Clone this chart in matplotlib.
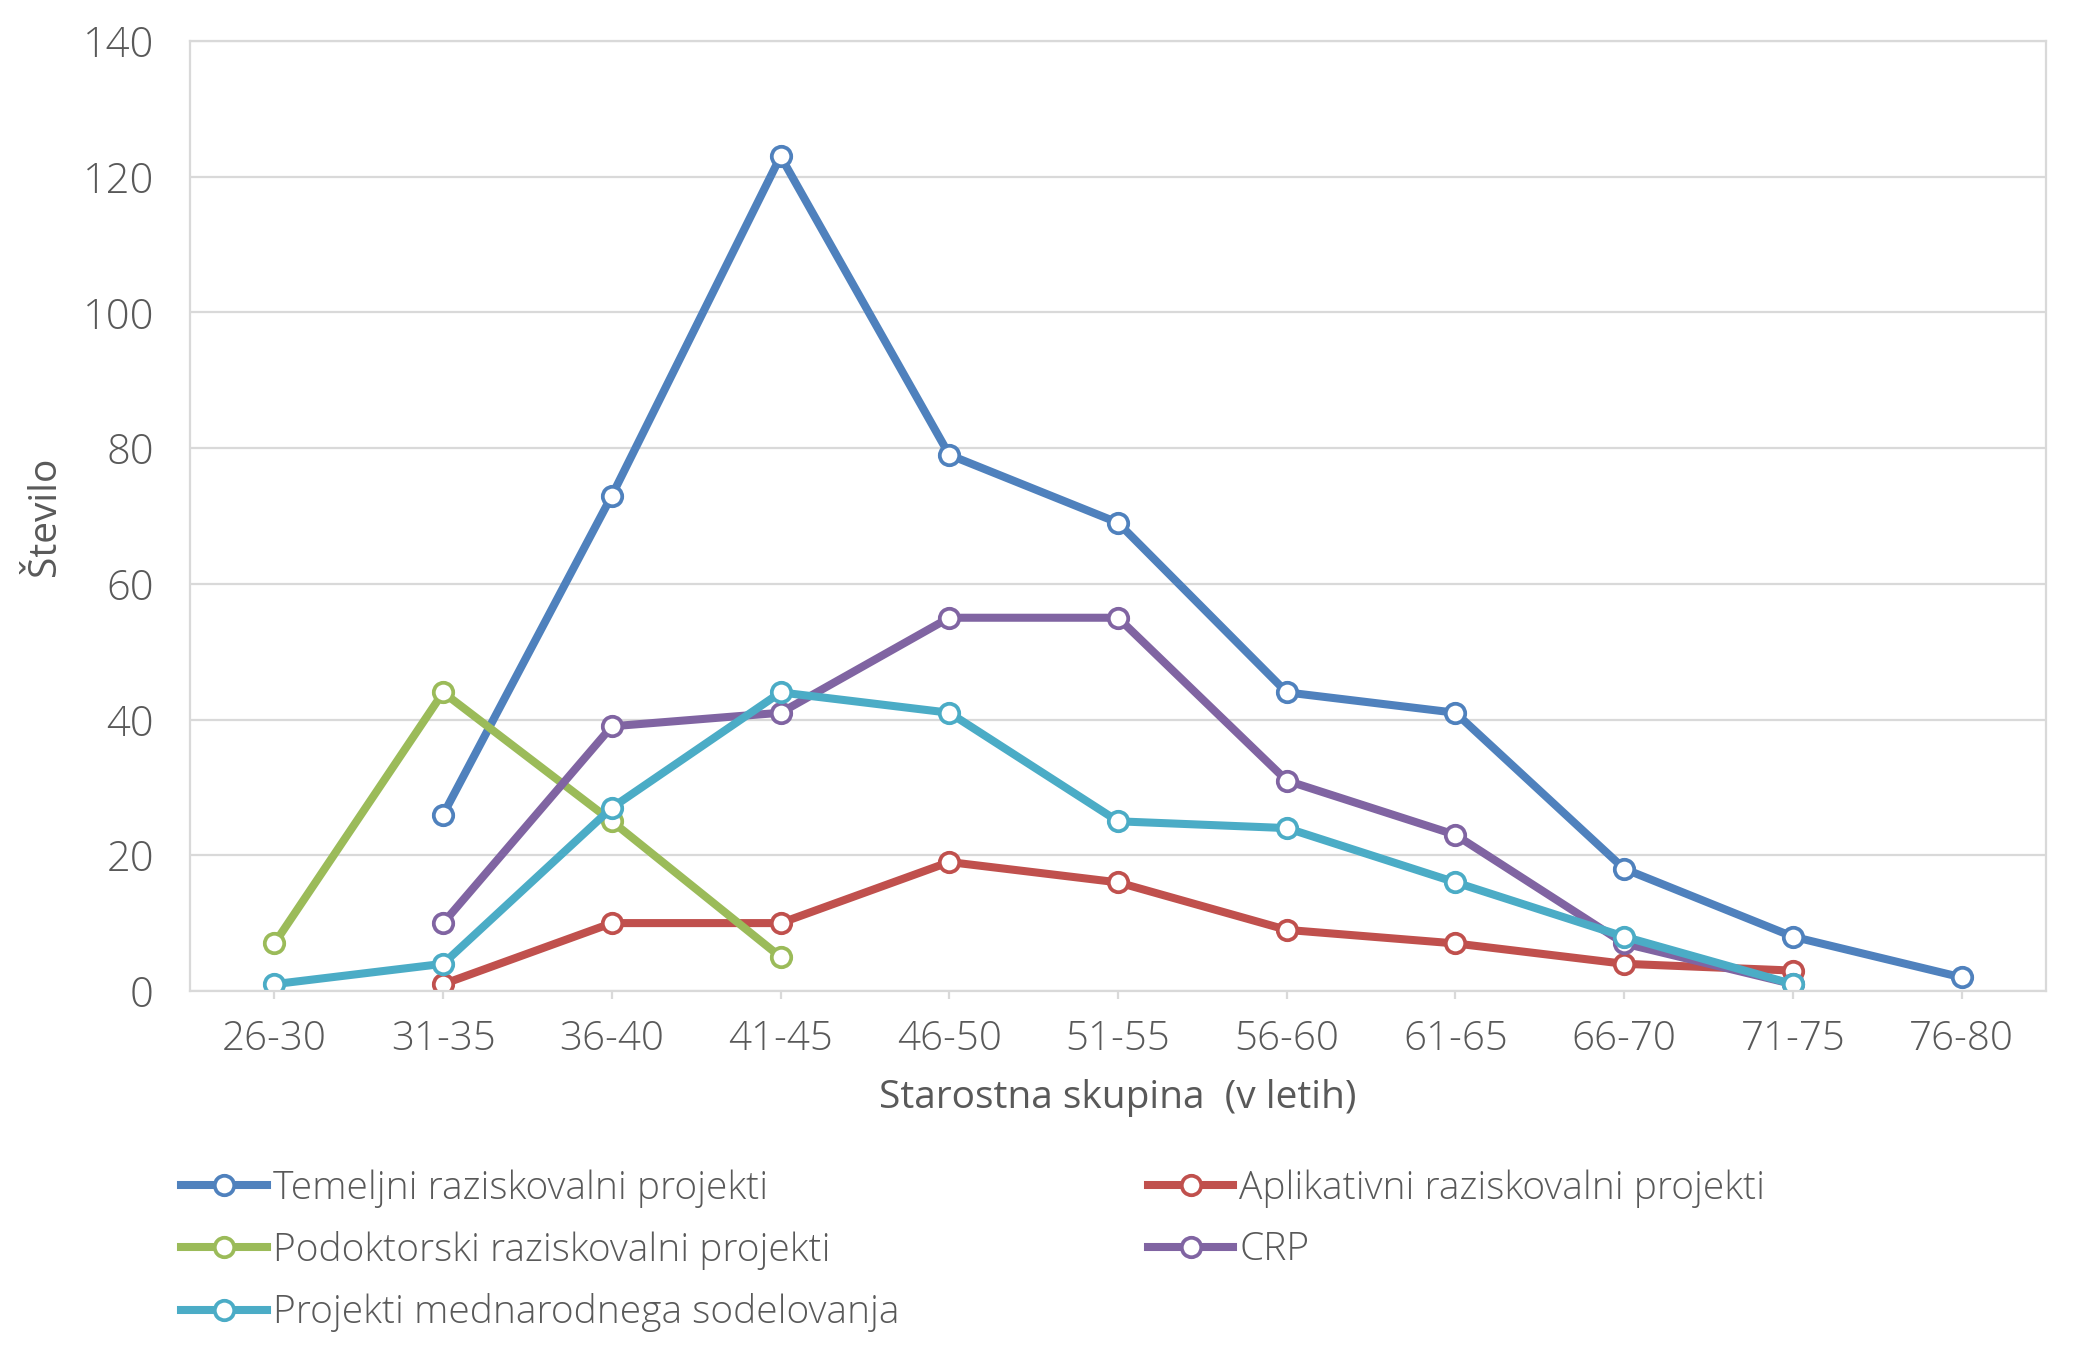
import numpy as np
import matplotlib
matplotlib.use('Agg')
import matplotlib.pyplot as plt

# starostne skupine
categories = ['26-30', '31-35', '36-40', '41-45', '46-50', '51-55',
              '56-60', '61-65', '66-70', '71-75', '76-80']
nan = np.nan
temeljni = [nan, 26, 73, 123, 79, 69, 44, 41, 18, 8, 2]
aplikativni = [nan, 1, 10, 10, 19, 16, 9, 7, 4, 3, nan]
podoktorski = [7, 44, 25, 5, nan, nan, nan, nan, nan, nan, nan]
crp = [nan, 10, 39, 41, 55, 55, 31, 23, 7, 1, nan]
mednarodni = [1, 4, 27, 44, 41, 25, 24, 16, 8, 1, nan]

series = [
    ('Temeljni raziskovalni projekti', temeljni, '#4F81BD'),
    ('Aplikativni raziskovalni projekti', aplikativni, '#C0504D'),
    ('Podoktorski raziskovalni projekti', podoktorski, '#9BBB59'),
    ('CRP', crp, '#8064A2'),
    ('Projekti mednarodnega sodelovanja', mednarodni, '#4BACC6'),
]
yticks = [0, 20, 40, 60, 80, 100, 120, 140]

plt.rcParams['font.family'] = ['Open Sans', 'DejaVu Sans']
plt.rcParams['font.weight'] = 'light'
txt = '#595959'
grid = '#D9D9D9'

fig = plt.figure(figsize=(20.82, 13.61), dpi=100)
ax = fig.add_axes([0.0913, 0.2719, 0.9827 - 0.0913, 0.9699 - 0.2719])

x = np.arange(len(categories))
lines = {}
for name, vals, col in series:
    ln, = ax.plot(x, vals, color=col, lw=5.8, marker='o', ms=14,
                  mfc='white', mec=col, mew=2.7, label=name)
    lines[name] = ln

ax.set_xlim(-0.5, len(categories) - 0.5)
ax.set_ylim(0, 140)
ax.set_yticks(yticks)
ax.set_xticks(x)
ax.set_xticklabels(categories)
ax.yaxis.grid(True, color=grid, lw=1.6)
ax.set_axisbelow(True)
for s in ax.spines.values():
    s.set_color(grid)
    s.set_linewidth(1.6)
ax.tick_params(axis='y', length=0, pad=26, labelsize=30, labelcolor=txt)
ax.tick_params(axis='x', length=6, width=1.6, color=grid, pad=14,
               labelsize=29, labelcolor=txt)

ax.set_xlabel('Starostna skupina  (v letih)', fontsize=28, color=txt, labelpad=14)
ax.set_ylabel('Število', fontsize=28, color=txt, labelpad=13)

order = ['Temeljni raziskovalni projekti', 'Podoktorski raziskovalni projekti',
         'Projekti mednarodnega sodelovanja', 'Aplikativni raziskovalni projekti', 'CRP']
leg = fig.legend([lines[n] for n in order], order, ncol=2, loc='upper left',
                 bbox_to_anchor=(0.087, 0.141), frameon=False, fontsize=28,
                 handlelength=2.2, handletextpad=0.15, labelspacing=0.6,
                 columnspacing=6.4, borderpad=0, borderaxespad=0)
for t in leg.get_texts():
    t.set_color(txt)

fig.savefig('out.png', dpi=100)
